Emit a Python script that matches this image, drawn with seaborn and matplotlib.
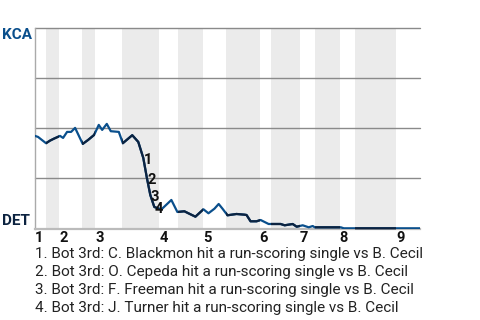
import matplotlib
matplotlib.use("Agg")
import matplotlib.pyplot as plt
from matplotlib.patches import Rectangle
import seaborn as sns
import pandas as pd

# ---- data ----
play_x = [0, 0.75, 2.75, 3.75, 4.75, 6.25, 7, 8, 9, 10,
          11.9, 13.25, 14.75, 15.9, 16.75, 17.9, 18.9, 20.9, 21.9, 24.25,
          25.75, 27, 27.9, 28.75, 29.75, 31.5, 34, 35.5, 37.25, 38.25,
          40, 42, 43.25, 44.75, 45.8, 46.75, 48, 50.25, 52.25, 52.75,
          53.75, 55.25, 56.25, 58.25, 61.25, 62.25, 64.25, 65.25, 66.75, 68.25,
          69.25, 69.75, 76.25, 77, 96]
win_prob = [46.25, 45.75, 42.6, 43.9, 44.9, 46.25, 45.25, 48.25, 48.25, 50.25,
            42.25, 44.25, 46.75, 51.75, 49.25, 52.25, 48.6, 48.25, 42.6, 46.6,
            43.25, 35.25, 25.25, 16.75, 10.75, 9.5, 14.25, 8.25, 8.6, 7.6,
            5.9, 9.6, 7.6, 9.9, 12.25, 9.9, 6.6, 7.25, 6.9, 6.75,
            3.6, 3.6, 4.25, 2.25, 2.25, 1.6, 2.25, 0.9, 1.6, 0.6,
            1.25, 0.6, 0.6, 0.1, 0.1]
# bottom half-innings (DET batting): start, end
bottom_starts = [2.75, 11.75, 21.75, 35.75, 47.75, 58.75, 69.75, 79.75]
bottom_ends = [6, 15, 31, 42, 56, 66, 76, 90]
inning_starts = [0, 6, 15, 31, 42, 56, 66, 76, 90]
inning_labels = ["1", "2", "3", "4", "5", "6", "7", "8", "9"]
event_idx = [21, 22, 23, 24]
event_labels = ["1", "2", "3", "4"]
event_texts = [
    "1. Bot 3rd: C. Blackmon hit a run-scoring single vs B. Cecil",
    "2. Bot 3rd: O. Cepeda hit a run-scoring single vs B. Cecil",
    "3. Bot 3rd: F. Freeman hit a run-scoring single vs B. Cecil",
    "4. Bot 3rd: J. Turner hit a run-scoring single vs B. Cecil",
]
away_team = "KCA"
home_team = "DET"
x_max = 96

KC_BLUE = "#0a4f8c"
DET_NAVY = "#0c2340"

sns.set_theme(style="white")
plt.rcParams['font.family'] = ['Roboto', 'DejaVu Sans']

df = pd.DataFrame({"x": play_x, "wp": win_prob})

fig = plt.figure(figsize=(4.8, 3.2), dpi=100)
ax = fig.add_axes([35/480, 1 - 228.5/320, 385/480, 200.2/320])

for s, e in zip(bottom_starts, bottom_ends):
    ax.axvspan(s, e, color="#ebebeb", lw=0, zorder=0)

for v in [25, 50, 75, 100]:
    ax.axhline(v, color="#8a8a8a", lw=1, zorder=1, clip_on=False)

sns.lineplot(data=df, x="x", y="wp", ax=ax, color=KC_BLUE, lw=1.6,
             sort=False, estimator=None, zorder=3)
for s, e in zip(bottom_starts, bottom_ends):
    rect = Rectangle((s, -5), e - s, 110, transform=ax.transData)
    ln, = ax.plot(play_x, win_prob, color=DET_NAVY, lw=1.6, zorder=4)
    ln.set_clip_path(rect)

for i, lab in zip(event_idx, event_labels):
    ax.annotate(lab, (play_x[i], win_prob[i]), xytext=(3.3, -1.5),
                textcoords="offset points", ha="center", va="center",
                fontsize=10.5, fontweight="bold", color="#111111", zorder=5)

ax.set_xlim(0, x_max)
ax.set_ylim(0, 100)
ax.set_xticks([])
ax.set_yticks([])
ax.set_xlabel("")
ax.set_ylabel("")
for sp in ["top", "right"]:
    ax.spines[sp].set_visible(False)
ax.spines["left"].set_color("#aaaaaa")
ax.spines["left"].set_linewidth(1)
ax.spines["bottom"].set_color("#bbbbbb")
ax.spines["bottom"].set_linewidth(1.6)

for s, lab in zip(inning_starts, inning_labels):
    ax.annotate(lab, (s, 0), xytext=(3, -7), textcoords="offset points",
                ha="center", va="center", fontsize=10.5, fontweight="bold",
                color="#111111", annotation_clip=False)

fig.text(2/480, 1 - 35/320, away_team, ha="left", va="center",
         fontsize=11, fontweight="bold", color=KC_BLUE)
fig.text(2/480, 1 - 221/320, home_team, ha="left", va="center",
         fontsize=11, fontweight="bold", color=DET_NAVY)

for k, t in enumerate(event_texts):
    fig.text(35/480, 1 - (254 + 18*k)/320, t, ha="left", va="center",
             fontsize=11, color="#222222")

fig.savefig("out.png", dpi=100)
